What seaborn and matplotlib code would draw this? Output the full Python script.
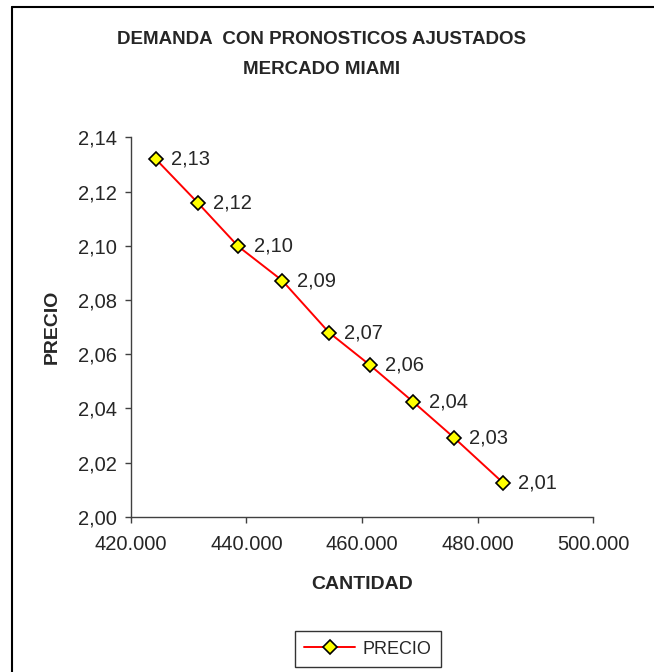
import pandas as pd
import matplotlib
matplotlib.use("Agg")
import matplotlib.pyplot as plt
import matplotlib.ticker as mticker
from matplotlib.lines import Line2D
import seaborn as sns

# Data
cantidad = [424400, 431600, 438600, 446200, 454300, 461300, 468900, 475900, 484400]
precio = [2.1319, 2.1159, 2.0998, 2.0872, 2.0680, 2.0561, 2.0423, 2.0292, 2.0125]
x_ticks = [420000, 440000, 460000, 480000, 500000]
y_ticks = [2.00, 2.02, 2.04, 2.06, 2.08, 2.10, 2.12, 2.14]

df = pd.DataFrame({"CANTIDAD": cantidad, "PRECIO": precio})

sns.set_style("white")
plt.rcParams['font.family'] = ['Liberation Sans', 'DejaVu Sans']

fig = plt.figure(figsize=(6.54, 6.72), dpi=100)
ax = fig.add_axes([0.1998, 0.2311, 0.9072 - 0.1998, 0.7954 - 0.2311])

sns.lineplot(data=df, x="CANTIDAD", y="PRECIO", ax=ax, color="#FF0000", linewidth=1.4,
             marker="D", markersize=7, markerfacecolor="#FFFF00",
             markeredgecolor="black", markeredgewidth=1.2, legend=False)

for xv, yv in zip(df["CANTIDAD"], df["PRECIO"]):
    ax.annotate(f"{yv:.2f}".replace(".", ","), (xv, yv), xytext=(11, 0),
                textcoords="offset points", ha="left", va="center", fontsize=14.5)

ax.set_xlim(420000, 500000)
ax.set_ylim(2.00, 2.14)
ax.set_xticks(x_ticks)
ax.set_yticks(y_ticks)
ax.xaxis.set_major_formatter(mticker.FuncFormatter(lambda v, p: f"{v:,.0f}".replace(",", ".")))
ax.yaxis.set_major_formatter(mticker.FuncFormatter(lambda v, p: f"{v:.2f}".replace(".", ",")))
ax.tick_params(axis="both", which="major", direction="out", length=4, width=1,
               color="#404040", labelsize=14.5, left=True, bottom=True)
ax.tick_params(axis="x", pad=9)
ax.tick_params(axis="y", pad=6)

for side in ["top", "right"]:
    ax.spines[side].set_visible(False)
for side in ["left", "bottom"]:
    ax.spines[side].set_color("#404040")
    ax.spines[side].set_linewidth(1)

ax.set_xlabel("CANTIDAD", fontsize=14, fontweight="bold", labelpad=16)
ax.set_ylabel("PRECIO", fontsize=14, fontweight="bold", labelpad=12)

fig.text(0.491, 1 - 39 / 672, "DEMANDA  CON PRONOSTICOS AJUSTADOS", ha="center", va="center",
         fontsize=13.5, fontweight="bold")
fig.text(0.491, 1 - 69 / 672, "MERCADO MIAMI", ha="center", va="center",
         fontsize=13.5, fontweight="bold")

handle = Line2D([], [], color="#FF0000", linewidth=1.4, marker="D", markersize=7,
                markerfacecolor="#FFFF00", markeredgecolor="black", markeredgewidth=1.2)
leg = fig.legend([handle], ["PRECIO"], loc="center", bbox_to_anchor=(0.5624, 1 - 649 / 672),
                 frameon=True, fancybox=False, fontsize=13, handlelength=2.8,
                 borderpad=0.55, handletextpad=0.4)
leg.get_frame().set_edgecolor("black")
leg.get_frame().set_linewidth(1)

# chart-area border (only left and top edges visible in the picture)
fig.add_artist(Line2D([12 / 654, 12 / 654], [0, 1 - 7 / 672], transform=fig.transFigure,
                      color="black", linewidth=1.5))
fig.add_artist(Line2D([12 / 654, 1], [1 - 7 / 672, 1 - 7 / 672], transform=fig.transFigure,
                      color="black", linewidth=1.5))

fig.savefig("out.png", dpi=100)
